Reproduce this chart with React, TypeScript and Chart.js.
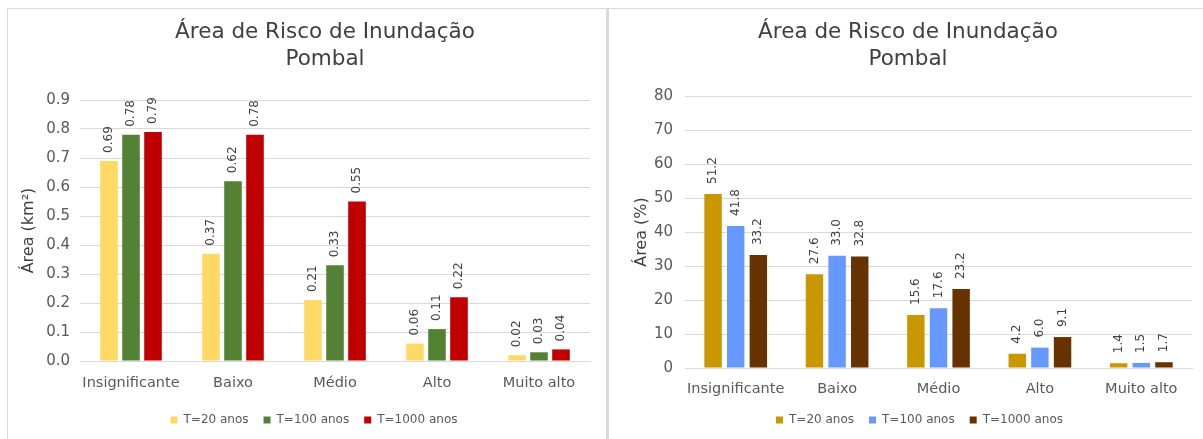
import React, { useEffect, useRef } from "react";
import { Chart, registerables } from "chart.js";

Chart.register(...registerables);

// ---------- data ----------
const categories = ["Insignificante", "Baixo", "Médio", "Alto", "Muito alto"];
const seriesNames = ["T=20 anos", "T=100 anos", "T=1000 anos"];

const areaT20 = [0.69, 0.37, 0.21, 0.06, 0.02];
const areaT100 = [0.78, 0.62, 0.33, 0.11, 0.03];
const areaT1000 = [0.79, 0.78, 0.55, 0.22, 0.04];

const pctT20 = [51.2, 27.6, 15.6, 4.2, 1.4];
const pctT100 = [41.8, 33.0, 17.6, 6.0, 1.5];
const pctT1000 = [33.2, 32.8, 23.2, 9.1, 1.7];

const titleLines = ["Área de Risco de Inundação", "Pombal"];
const leftAxisTitle = "Área (km²)";
const rightAxisTitle = "Área (%)";

const leftColors = ["#FFD966", "#548235", "#C00000"];
const rightColors = ["#C99700", "#6699FF", "#663300"];

const FONT = "'DejaVu Sans', Verdana, sans-serif";
const TICK_COLOR = "#595959";
const DARK = "#404040";
const GRID = "#D9D9D9";

// ---------- plugins ----------
function makeTitlePlugin(x: number, baselines: number[]) {
  return {
    id: "twoLineTitle",
    afterDraw(chart: any) {
      const ctx = chart.ctx;
      ctx.save();
      ctx.font = `21.5px ${FONT}`;
      ctx.fillStyle = DARK;
      ctx.textAlign = "center";
      ctx.textBaseline = "alphabetic";
      titleLines.forEach((l, i) => ctx.fillText(l, x, baselines[i]));
      ctx.restore();
    },
  };
}

function makeLabelPlugin(decimals: number, offset: number) {
  return {
    id: "barLabels",
    afterDatasetsDraw(chart: any) {
      const ctx = chart.ctx;
      ctx.save();
      ctx.font = `12px ${FONT}`;
      ctx.fillStyle = DARK;
      ctx.textAlign = "left";
      ctx.textBaseline = "middle";
      chart.data.datasets.forEach((ds: any, di: number) => {
        const meta = chart.getDatasetMeta(di);
        meta.data.forEach((bar: any, i: number) => {
          const v = ds.data[i] as number;
          ctx.save();
          ctx.translate(bar.x, bar.y - offset);
          ctx.rotate(-Math.PI / 2);
          ctx.fillText(v.toFixed(decimals), 0, 0);
          ctx.restore();
        });
      });
      ctx.restore();
    },
  };
}

function makeLegendShift(dx: number) {
  return {
    id: "legendShift",
    afterLayout(chart: any) {
      if (chart.legend) {
        chart.legend.left += dx;
        chart.legend.right += dx;
      }
    },
  };
}

interface PanelCfg {
  values: number[][];
  colors: string[];
  max: number;
  step: number;
  tickDecimals: number;
  labelDecimals: number;
  labelOffset: number;
  axisTitle: string;
  padTop: number;
  padRight: number;
  yWidth: number;
  yTitlePad: number;
  yTickPad: number;
  xHeight: number;
  xTickPad: number;
  titleX: number;
  titleBaselines: number[];
  legendDx: number;
  cp: number;
  bp: number;
  width: number;
  height: number;
}

function BarPanel({ cfg }: { cfg: PanelCfg }) {
  const ref = useRef<HTMLCanvasElement | null>(null);
  useEffect(() => {
    if (!ref.current) return;
    const chart = new Chart(ref.current, {
      type: "bar",
      data: {
        labels: categories,
        datasets: cfg.values.map((vals, i) => ({
          label: seriesNames[i],
          data: vals,
          backgroundColor: cfg.colors[i],
          borderWidth: 0,
          categoryPercentage: cfg.cp,
          barPercentage: cfg.bp,
        })),
      },
      options: {
        responsive: false,
        animation: false,
        devicePixelRatio: 1,
        layout: { padding: { top: cfg.padTop, right: cfg.padRight, bottom: 3, left: 0 } },
        plugins: {
          title: { display: false },
          tooltip: { enabled: false },
          legend: {
            position: "bottom",
            labels: {
              boxWidth: 7,
              boxHeight: 7,
              padding: 15,
              color: TICK_COLOR,
              font: { family: FONT, size: 12 },
            },
          },
        },
        scales: {
          x: {
            grid: { display: false, drawTicks: false },
            border: { display: true, color: GRID, width: 1 },
            ticks: {
              color: TICK_COLOR,
              font: { family: FONT, size: 14.5 },
              padding: cfg.xTickPad,
              maxRotation: 0,
              autoSkip: false,
            },
            afterFit(s: any) {
              s.height = cfg.xHeight;
            },
          },
          y: {
            min: 0,
            max: cfg.max,
            grid: { color: GRID, drawTicks: false, lineWidth: 1 },
            border: { display: false },
            ticks: {
              stepSize: cfg.step,
              padding: cfg.yTickPad,
              color: TICK_COLOR,
              font: { family: FONT, size: 15 },
              callback: (v: any) => Number(v).toFixed(cfg.tickDecimals),
            },
            title: {
              display: true,
              text: cfg.axisTitle,
              color: DARK,
              font: { family: FONT, size: 16 },
              padding: { top: cfg.yTitlePad, bottom: 0 },
            },
            afterFit(s: any) {
              s.width = cfg.yWidth;
            },
          },
        },
      },
      plugins: [
        makeTitlePlugin(cfg.titleX, cfg.titleBaselines),
        makeLabelPlugin(cfg.labelDecimals, cfg.labelOffset),
        makeLegendShift(cfg.legendDx),
      ],
    } as any);
    return () => chart.destroy();
  }, [cfg]);
  return (
    <canvas
      ref={ref}
      width={cfg.width}
      height={cfg.height}
      style={{ width: cfg.width, height: cfg.height, display: "block" }}
    />
  );
}

const leftCfg: PanelCfg = {
  values: [areaT20, areaT100, areaT1000],
  colors: leftColors,
  max: 0.9,
  step: 0.1,
  tickDecimals: 1,
  labelDecimals: 2,
  labelOffset: 8,
  axisTitle: leftAxisTitle,
  padTop: 91,
  padRight: 15,
  yWidth: 72,
  yTitlePad: 11,
  yTickPad: 10,
  xHeight: 38,
  xTickPad: 14,
  titleX: 317,
  titleBaselines: [29, 56],
  legendDx: 15,
  cp: 0.647,
  bp: 0.8,
  width: 597,
  height: 430,
};

const rightCfg: PanelCfg = {
  values: [pctT20, pctT100, pctT1000],
  colors: rightColors,
  max: 80,
  step: 10,
  tickDecimals: 0,
  labelDecimals: 1,
  labelOffset: 10,
  axisTitle: rightAxisTitle,
  padTop: 87,
  padRight: 11,
  yWidth: 76,
  yTitlePad: 23,
  yTickPad: 12,
  xHeight: 31,
  xTickPad: 13,
  titleX: 299,
  titleBaselines: [29, 56],
  legendDx: 19,
  cp: 0.67,
  bp: 0.77,
  width: 594,
  height: 430,
};

export default function App() {
  return (
    <div
      style={{
        position: "absolute",
        left: 0,
        top: 0,
        width: 1203,
        height: 439,
        background: "#fff",
        overflow: "hidden",
      }}
    >
      <div
        style={{
          position: "absolute",
          left: 7,
          top: 8,
          width: 599,
          height: 440,
          borderTop: `1px solid ${GRID}`,
          borderLeft: `1px solid ${GRID}`,
          boxSizing: "border-box",
        }}
      />
      <div
        style={{
          position: "absolute",
          left: 606,
          top: 8,
          width: 3,
          height: 440,
          background: GRID,
        }}
      />
      <div
        style={{
          position: "absolute",
          left: 606,
          top: 8,
          width: 600,
          height: 1,
          background: GRID,
        }}
      />
      <div style={{ position: "absolute", left: 8, top: 9 }}>
        <BarPanel cfg={leftCfg} />
      </div>
      <div style={{ position: "absolute", left: 609, top: 9 }}>
        <BarPanel cfg={rightCfg} />
      </div>
    </div>
  );
}
